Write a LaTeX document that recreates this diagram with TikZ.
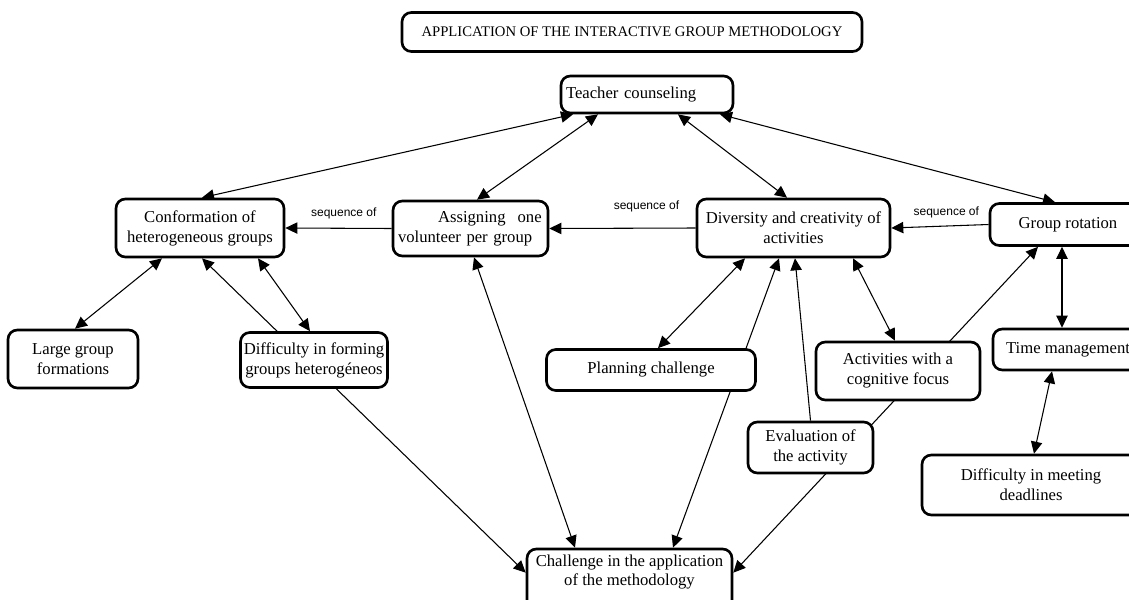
\documentclass[tikz,border=0pt]{standalone}
\usepackage{fontspec}
\setmainfont{Liberation Serif}
\newfontfamily\lblfont{Liberation Sans}
\usetikzlibrary{arrows.meta,calc}
\pgfdeclarelayer{background}
\pgfsetlayers{background,main}
\begin{document}
\begin{tikzpicture}[x=0.75pt,y=-0.75pt,
  >={Triangle[length=9pt,width=8.5pt]},
  box/.style={draw,line width=2pt,rounded corners=7pt,fill=white,align=center,
    font=\fontsize{12.5}{15}\selectfont,inner sep=2pt},
  seqlbl/.style={font=\lblfont\fontsize{9}{11}\selectfont,inner sep=1pt},
  link/.style={line width=0.8pt}]
\useasboundingbox (0,0) rectangle (1129,600);

\node[box,minimum width=345pt,minimum height=29.25pt,font=\fontsize{11}{13}\selectfont] (title) at (632,32) {APPLICATION OF THE INTERACTIVE GROUP METHODOLOGY};
\node[box,minimum width=129pt,minimum height=27.75pt,text width=121.5pt,inner xsep=3.75pt,align=left] (teacher) at (647,94.5) {Teacher counseling};
\node[box,minimum width=126pt,minimum height=43.5pt] (conf) at (200,228) {Conformation of\\heterogeneous groups};
\node[box,minimum width=116.25pt,minimum height=41.25pt,text width=108.75pt,inner xsep=3.75pt,align=left] (assign) at (470.5,228.5) {\hspace*{30pt}Assigning\hspace{9pt}one\\volunteer per group};
\node[box,minimum width=144.75pt,minimum height=43.5pt] (diversity) at (793.5,228) {Diversity and creativity of\\activities};
\node[box,minimum width=117pt,minimum height=31.5pt] (grouprot) at (1068,224.5) {Group rotation};
\node[box,minimum width=97.5pt,minimum height=43.5pt] (large) at (73,359) {Large group\\formations};
\node[box,minimum width=110.25pt,minimum height=41.25pt] (diffform) at (314,360) {Difficulty in forming\\groups heterogéneos};
\node[box,minimum width=156.75pt,minimum height=30.75pt] (planning) at (651,370) {Planning challenge};
\node[box,minimum width=123pt,minimum height=43.5pt] (cognitive) at (898,371) {Activities with a\\cognitive focus};
\node[box,minimum width=112.5pt,minimum height=30.75pt] (timemgmt) at (1068,349.5) {Time management};
\node[box,minimum width=93.75pt,minimum height=38.25pt] (evaluation) at (810.5,447.5) {Evaluation of\\the activity};
\node[box,minimum width=163.5pt,minimum height=45pt] (deadlines) at (1031,485) {Difficulty in meeting\\deadlines};
\node[box,minimum width=153.75pt,minimum height=52.5pt,font=\fontsize{12.5}{14.5}\selectfont] (challenge) at (629.5,584) {Challenge in the application\\of the methodology\\[6pt]\mbox{}};

\begin{pgfonlayer}{background}
\draw[link,<->] ($(teacher.south)+(-74,0)$) -- ($(conf.north)+(2,0)$);
\draw[link,<->] ($(teacher.south)+(-49,0)$) -- ($(assign.north)+(6.5,0)$);
\draw[link,<->] ($(teacher.south)+(31,0)$) -- ($(diversity.north)+(-6.5,0)$);
\draw[link,<->] ($(teacher.south)+(73,0)$) -- ($(grouprot.north)+(-13,0)$);
\draw[link,->] (assign.west) -- node[seqlbl,pos=0.45,yshift=11pt]{sequence of} (conf.east);
\draw[link,->] (diversity.west) -- node[seqlbl,pos=0.336,yshift=16.5pt]{sequence of} (assign.east);
\draw[link,->] (grouprot.west) -- node[seqlbl,pos=0.435,yshift=10.5pt]{sequence of} (diversity.east);
\draw[link,<->] ($(conf.south)+(-38,0)$) -- ($(large.north)+(2,0)$);
\draw[link,<->] ($(conf.south)+(2,0)$) -- ($(challenge.north west)+(0,25)$);
\draw[link,<->] ($(conf.south)+(58,0)$) -- ($(diffform.north)+(-4,0)$);
\draw[link,<->] ($(assign.south)+(3.5,0)$) -- ($(challenge.north)+(-54.5,0)$);
\draw[link,<->] ($(planning.north)+(7,0)$) -- ($(diversity.south)+(-48.5,0)$);
\draw[link,<->] ($(challenge.north)+(43.5,0)$) -- ($(diversity.south)+(-14.5,0)$);
\draw[link,->] (evaluation.north) -- ($(diversity.south)+(1.5,0)$);
\draw[link,<->] ($(diversity.south)+(59.5,0)$) -- ($(cognitive.north)+(-3,0)$);
\draw[link,<->] ($(challenge.north east)+(0,25)$) -- ($(grouprot.south)+(-30,0)$);
\draw[link,<->] ($(grouprot.south)+(-6,0)$) -- ($(timemgmt.north)+(-6,0)$);
\draw[link,<->] ($(timemgmt.south)+(-16,0)$) -- ($(deadlines.north)+(3,0)$);
\end{pgfonlayer}
\end{tikzpicture}
\end{document}
